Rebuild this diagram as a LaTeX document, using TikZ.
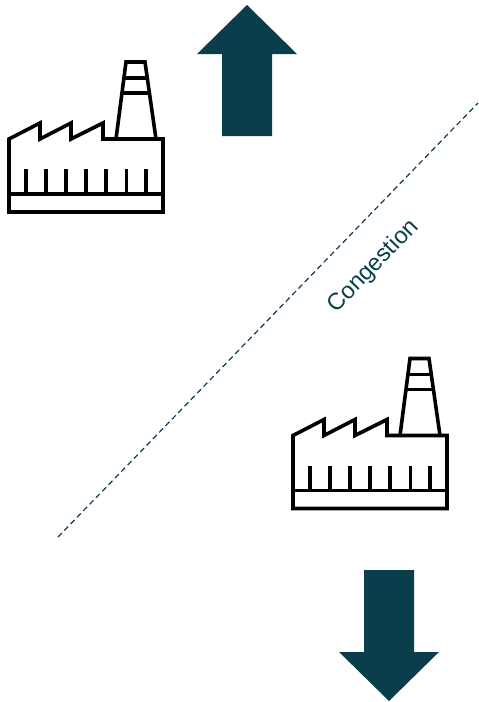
\documentclass[tikz,border=0pt]{standalone}
\usepackage{xcolor}
\usepackage{fontspec}
\setmainfont{Liberation Sans}
\usepackage{tikz}
\usetikzlibrary{positioning, calc}
\definecolor{ctdark}{RGB}{10,62,74}
\begin{document}
\begin{tikzpicture}[x=1pt, y=-1pt,
  outline/.style={draw=black, line width=3.6pt, line join=miter},
  bigarrow/.style={fill=ctdark, draw=none},
  limit/.style={draw=ctdark, line width=1.2pt, dash pattern=on 5.5pt off 3.6pt},
  lbl/.style={font=\fontsize{23.5}{28}\selectfont, text=ctdark, inner sep=0pt},
  factory/.pic={
    \draw[outline] (9,139) -- (40,123) -- (40,139) -- (71,123) -- (71,139) -- (103,123) -- (103,139) -- (163,139) -- (163,212) -- (9,212) -- cycle;
    \draw[outline] (9,194) -- (163,194);
    % chimney
    \draw[outline] (116,139) -- (126,62) -- (145,62) -- (156,139);
    \draw[outline] (124,78) -- (148,78);
    \draw[outline] (122,93) -- (150,93);
    \foreach \x in {26,46,66,86,106,126.5,146} {
      \draw[outline] (\x,169) -- (\x,194);
    }
  }
]
\useasboundingbox (0,0) rectangle (479,702);
\pic (plantA) at (0,0) {factory};
\pic (plantB) at (284,296.5) {factory};
\fill[bigarrow] (247,5) -- (297,54) -- (272,54) -- (272,136) -- (222,136) -- (222,54) -- (197,54) -- cycle;
\fill[bigarrow] (389,701) -- (439,652) -- (414,652) -- (414,570) -- (364,570) -- (364,652) -- (339,652) -- cycle;
\coordinate (low) at (58,537);
\coordinate (high) at (478,103);
\draw[limit] (low) -- (high);
\node[lbl, rotate=45.9] (congestion) at (373.5,266.5) {Congestion};
\end{tikzpicture}
\end{document}
